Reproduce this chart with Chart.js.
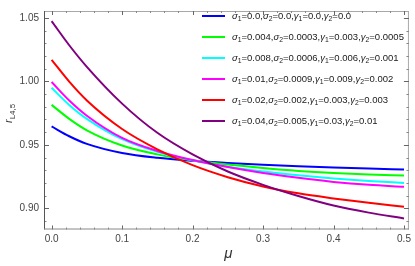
<!DOCTYPE html>
<html>
<head>
<meta charset="utf-8">
<script src="https://cdn.jsdelivr.net/npm/chart.js@4.4.1/dist/chart.umd.min.js"></script>
<style>
  body { margin: 0; background: #fff; }
  #wrap { width: 415px; height: 266px; }
</style>
</head>
<body>
<div id="wrap"><canvas id="myChart"></canvas></div>
<script>
const mu = [0, 0.025, 0.05, 0.1, 0.15, 0.2, 0.25, 0.3, 0.35, 0.4, 0.45, 0.5];

const blueVals    = [0.9645, 0.9568, 0.9508, 0.9436, 0.9398, 0.9375, 0.9358, 0.9344, 0.9332, 0.9322, 0.9313, 0.9305];
const greenVals   = [0.9815, 0.9705, 0.9615, 0.9495, 0.9425, 0.9378, 0.9345, 0.9318, 0.9295, 0.9278, 0.9266, 0.9258];
const cyanVals    = [0.9950, 0.9815, 0.9705, 0.9545, 0.9445, 0.9378, 0.9328, 0.9290, 0.9260, 0.9235, 0.9215, 0.9200];
const magentaVals = [0.9995, 0.9850, 0.9730, 0.9555, 0.9452, 0.9380, 0.9325, 0.9278, 0.9240, 0.9208, 0.9185, 0.9170];
const redVals     = [1.0170, 0.9998, 0.9850, 0.9625, 0.9465, 0.9340, 0.9245, 0.9172, 0.9118, 0.9078, 0.9043, 0.9012];
const purpleVals  = [1.0475, 1.0285, 1.0115, 0.9825, 0.9595, 0.9425, 0.9290, 0.9185, 0.9097, 0.9022, 0.8966, 0.8920];

const seriesLabels = [
  'σ₁=0.0,σ₂=0.0,γ₁=0.0,γ₂=0.0',
  'σ₁=0.004,σ₂=0.0003,γ₁=0.003,γ₂=0.0005',
  'σ₁=0.008,σ₂=0.0006,γ₁=0.006,γ₂=0.001',
  'σ₁=0.01,σ₂=0.0009,γ₁=0.009,γ₂=0.002',
  'σ₁=0.02,σ₂=0.002,γ₁=0.003,γ₂=0.003',
  'σ₁=0.04,σ₂=0.005,γ₁=0.03,γ₂=0.01'
];
const seriesColors = ['#0000ff', '#00ff00', '#00ffff', '#ff00ff', '#ff0000', '#800080'];
const allVals = [blueVals, greenVals, cyanVals, magentaVals, redVals, purpleVals];

const xTicks = [0, 0.1, 0.2, 0.3, 0.4, 0.5];
const yTicks = [0.90, 0.95, 1.00, 1.05];

const FONT = '"Liberation Sans", Arial, sans-serif';

// draws text where ₁ ₂ become real subscripts and greek letters are italic
function drawRich(ctx, str, x, y, size) {
  for (const ch of str) {
    if (ch === '₁' || ch === '₂') {
      ctx.font = (size * 0.72) + 'px ' + FONT;
      const d = ch === '₁' ? '1' : '2';
      ctx.fillText(d, x, y + size * 0.28);
      x += ctx.measureText(d).width;
    } else if (ch === 'σ' || ch === 'γ') {
      ctx.font = 'italic ' + size + 'px ' + FONT;
      ctx.fillText(ch, x, y);
      x += ctx.measureText(ch).width;
    } else {
      ctx.font = size + 'px ' + FONT;
      ctx.fillText(ch, x, y);
      x += ctx.measureText(ch).width;
    }
  }
}

const framePlugin = {
  id: 'frame',
  afterDraw(chart) {
    const ctx = chart.ctx;
    const a = chart.chartArea;
    const xs = chart.scales.x, ys = chart.scales.y;
    ctx.save();
    ctx.lineWidth = 1;

    // top / right frame
    ctx.strokeStyle = '#a8a8a8';
    ctx.beginPath();
    ctx.moveTo(a.left, a.top + 0.5); ctx.lineTo(a.right, a.top + 0.5);
    ctx.moveTo(a.right - 0.5, a.top); ctx.lineTo(a.right - 0.5, a.bottom);
    ctx.stroke();

    // minor + major ticks, inward
    const xMinor = [], yMinor = [];
    for (let i = 1; i <= 25; i++) if (i % 5) xMinor.push(i * 0.02);
    for (let i = 89; i <= 105; i++) if (i % 5) yMinor.push(i / 100);

    function xTick(v, len, col) {
      const px = Math.round(xs.getPixelForValue(v)) + 0.5;
      ctx.strokeStyle = col;
      ctx.beginPath();
      ctx.moveTo(px, a.bottom); ctx.lineTo(px, a.bottom - len);
      ctx.moveTo(px, a.top); ctx.lineTo(px, a.top + len);
      ctx.stroke();
    }
    function yTick(v, len, col) {
      const py = Math.round(ys.getPixelForValue(v)) + 0.5;
      ctx.strokeStyle = col;
      ctx.beginPath();
      ctx.moveTo(a.left, py); ctx.lineTo(a.left + len, py);
      ctx.moveTo(a.right, py); ctx.lineTo(a.right - len, py);
      ctx.stroke();
    }
    xMinor.forEach(v => xTick(v, 2, '#888'));
    xTicks.forEach(v => xTick(v, 4, '#666'));
    yMinor.forEach(v => yTick(v, 2.5, '#888'));
    yTicks.forEach(v => yTick(v, 5, '#666'));

    // left / bottom frame
    ctx.strokeStyle = '#555';
    ctx.beginPath();
    ctx.moveTo(a.left + 0.5, a.top); ctx.lineTo(a.left + 0.5, a.bottom);
    ctx.stroke();
    ctx.strokeStyle = '#888';
    ctx.beginPath();
    ctx.moveTo(a.left, a.bottom - 0.5); ctx.lineTo(a.right, a.bottom - 0.5);
    ctx.stroke();

    // axis titles
    ctx.fillStyle = '#333';
    ctx.textBaseline = 'alphabetic';
    ctx.font = 'italic 15px ' + FONT;
    ctx.textAlign = 'center';
    ctx.fillText('μ', (a.left + a.right) / 2 + 2, 258);

    ctx.save();
    ctx.translate(12, 123);
    ctx.rotate(-Math.PI / 2);
    ctx.textAlign = 'left';
    ctx.font = 'italic 11px ' + FONT;
    ctx.fillText('r', 0, 0);
    const rw = ctx.measureText('r').width;
    ctx.font = '8px ' + FONT;
    ctx.fillText('L4,5', rw, 3);
    ctx.restore();

    // legend
    ctx.textAlign = 'left';
    ctx.textBaseline = 'middle';
    chart.data.datasets.forEach((ds, i) => {
      const yy = 16 + 21 * i;
      ctx.strokeStyle = ds.borderColor;
      ctx.lineWidth = 2;
      ctx.beginPath();
      ctx.moveTo(202, yy); ctx.lineTo(225, yy);
      ctx.stroke();
      ctx.fillStyle = '#1a1a1a';
      drawRich(ctx, ds.label, 232, yy, 9.5);
    });
    ctx.restore();
  }
};

const datasets = seriesLabels.map((lab, i) => ({
  label: lab,
  data: mu.map((m, j) => ({ x: m, y: allVals[i][j] })),
  borderColor: seriesColors[i],
  backgroundColor: seriesColors[i],
  borderWidth: 2,
  pointRadius: 0,
  cubicInterpolationMode: 'monotone',
  order: seriesLabels.length - 1 - i
}));

const config = {
  type: 'line',
  data: { datasets: datasets },
  options: {
    responsive: true,
    maintainAspectRatio: false,
    animation: false,
    layout: { padding: { top: 2, right: 3.5, left: 0, bottom: 0 } },
    plugins: { legend: { display: false }, tooltip: { enabled: false } },
    scales: {
      x: {
        type: 'linear',
        min: -0.0108,
        max: 0.507,
        afterBuildTicks: s => { s.ticks = xTicks.map(v => ({ value: v })); },
        afterFit: s => { s.height = 36.5; },
        grid: { display: false, drawTicks: false },
        border: { display: false },
        ticks: {
          autoSkip: false,
          maxRotation: 0,
          padding: 4,
          color: '#444',
          font: { family: FONT, size: 10 },
          callback: v => v.toFixed(1)
        }
      },
      y: {
        type: 'linear',
        min: 0.8833,
        max: 1.0555,
        afterBuildTicks: s => { s.ticks = yTicks.map(v => ({ value: v })); },
        afterFit: s => { s.width = 44; },
        grid: { display: false, drawTicks: false },
        border: { display: false },
        ticks: {
          autoSkip: false,
          padding: 5,
          color: '#444',
          font: { family: FONT, size: 10 },
          callback: v => v.toFixed(2)
        }
      }
    }
  },
  plugins: [framePlugin]
};

const myChart = new Chart(document.getElementById('myChart'), config);
</script>
</body>
</html>
